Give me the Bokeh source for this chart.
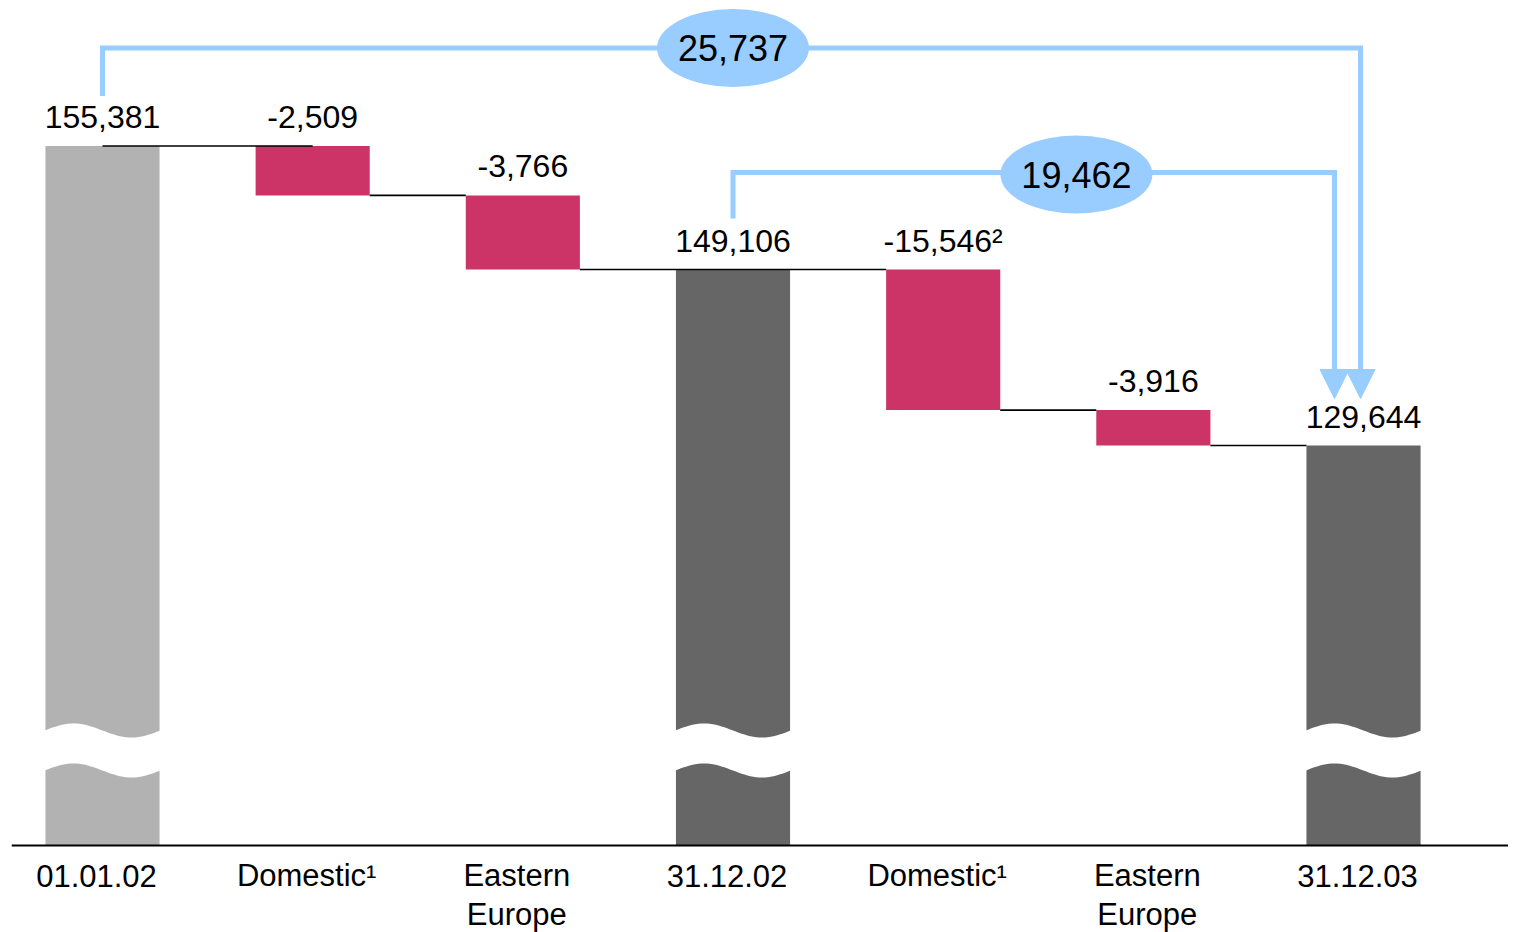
import math
from bokeh.plotting import figure
from bokeh.models import Range1d, Arrow, NormalHead, ColumnDataSource, Span
from bokeh.core.properties import value
from bokeh.embed import file_html
from bokeh.resources import INLINE

# ---------------- data ----------------
categories = ["01.01.02", "Domestic\u00b9", "Eastern\nEurope", "31.12.02",
              "Domestic\u00b9", "Eastern\nEurope", "31.12.03"]
values = [155381, -2509, -3766, 149106, -15546, -3916, 129644]
is_total = [True, False, False, True, False, False, True]
value_labels = ["155,381", "-2,509", "-3,766", "149,106", "-15,546\u00b2", "-3,916", "129,644"]
scale_group = ["y1", "y1", "y1", "y1", "y2", "y2", "y2"]
change_labels = ["25,737", "19,462"]

# ---------------- styles / layout ----------------
FONT = "Liberation Sans"
LIGHT = "#b2b2b2"
DARK = "#666666"
NEG = "#cc3366"
BLUE = "#99ccff"
W, H = 1508, 932
BASE_PX = 845            # baseline position from top of figure
BELOW = H - BASE_PX      # px of frame under the baseline
BORDER_L = 11
UNIT = 210.17            # px per category
FIRST_CENTER = 91        # px from frame left to first bar center
BAR_W = 0.543
LABEL_GAP = 29           # px between bar top and the middle of its value label
CAT_MIDDLES = [30, 69]   # px below the axis line for the middle of label lines

# broken axis: two vertical scales (anchored at pixel heights above the baseline)
s1 = (699.5 - 576.0) / (values[0] - values[3])
base1 = values[3] - 576.0 / s1
s2 = (576.0 - 400.0) / (values[3] - values[6])
base2 = values[3] - 576.0 / s2
bases = {"y1": base1, "y2": base2}
scales = {"y1": s1, "y2": s2}

def h_of(v, g):
    return (v - bases[g]) * scales[g]

def v_of_h(h, g):
    return bases[g] + h / scales[g]

def v1_of_h(h):
    return v_of_h(h, "y1")

x_start = -FIRST_CENTER / UNIT
x_end = x_start + (W - BORDER_L) / UNIT

p = figure(width=W, height=H, x_range=Range1d(x_start, x_end),
           y_range=Range1d(base1 - BELOW / s1, base1 + BASE_PX / s1),
           output_backend="svg", toolbar_location=None,
           x_axis_location=None, y_axis_location=None,
           min_border_left=BORDER_L, min_border_right=0,
           min_border_top=0, min_border_bottom=0)
p.extra_y_ranges = {"y2": Range1d(base2 - BELOW / s2, base2 + BASE_PX / s2)}
p.grid.visible = False
p.outline_line_color = None
p.background_fill_color = "white"
p.border_fill_color = "white"

# ---------------- waterfall geometry ----------------
tops, bottoms, colors = [], [], []
running = None
for i, v in enumerate(values):
    g = scale_group[i]
    if is_total[i]:
        tops.append(v)
        bottoms.append(bases[g])
        colors.append(LIGHT if i == 0 else DARK)
        running = v
    else:
        tops.append(running)
        bottoms.append(running + v)
        colors.append(NEG)
        running = running + v

for g in ("y1", "y2"):
    idx = [i for i in range(len(values)) if scale_group[i] == g]
    src = ColumnDataSource(dict(x=idx, top=[tops[i] for i in idx],
                                bottom=[bottoms[i] for i in idx],
                                color=[colors[i] for i in idx],
                                label=[value_labels[i] for i in idx],
                                ly=[v_of_h(h_of(tops[i], g) + LABEL_GAP, g) for i in idx]))
    kw = {} if g == "y1" else {"y_range_name": "y2"}
    p.vbar(x="x", width=BAR_W, top="top", bottom="bottom", fill_color="color",
           line_color=None, source=src, **kw)
    p.text(x="x", y="ly", text="label", source=src, text_align="center",
           text_baseline="middle", text_color="black",
           text_font=value(FONT), text_font_size="32px", **kw)

# connector lines (running-total levels)
half = BAR_W / 2
conn = {"y1": ([], []), "y2": ([], [])}
def add_conn(level, x0, x1, g):
    conn[g][0].append([x0, x1])
    conn[g][1].append([level, level])
add_conn(tops[1], 0, 1, "y1")
add_conn(tops[2], 1 + half, 2 - half, "y1")
add_conn(tops[3], 2 + half, 4 - half, "y1")
add_conn(tops[5], 4 + half, 5 - half, "y2")
add_conn(tops[6], 5 + half, 6 - half, "y2")
for g in ("y1", "y2"):
    kw = {} if g == "y1" else {"y_range_name": "y2"}
    p.multi_line(xs=conn[g][0], ys=conn[g][1], line_color="black",
                 line_width=1.6, **kw)

# axis-break waves on the total bars
N = 40
for i in range(len(values)):
    if not is_total[i]:
        continue
    g = scale_group[i]
    ts = [k / N for k in range(N + 1)]
    xl = i - half - 0.004
    wx = BAR_W + 0.008
    xs_top = [xl + wx * t for t in ts]
    top_h = [115 + 7 * math.sin(2 * math.pi * t) for t in ts]
    bot_h = [75 + 7 * math.sin(2 * math.pi * t) for t in ts]
    xs = xs_top + xs_top[::-1]
    ys = [v_of_h(h, g) for h in top_h] + [v_of_h(h, g) for h in bot_h[::-1]]
    kw = {} if g == "y1" else {"y_range_name": "y2"}
    p.patch(x=xs, y=ys, fill_color="white", line_color=None, **kw)

# baseline (category axis line)
p.add_layout(Span(location=base1, dimension="width", line_color="black",
                  line_width=2))

# category labels (one text per line)
cx, cy, ct = [], [], []
for i, c in enumerate(categories):
    for k, line in enumerate(c.split("\n")):
        cx.append(i - 6 / UNIT)
        cy.append(v1_of_h(-CAT_MIDDLES[k]))
        ct.append(line)
p.text(x=cx, y=cy, text=ct, text_align="center", text_baseline="middle",
       text_color="black", text_font=value(FONT), text_font_size="31px")

# ---------------- change arrows ----------------
HEAD = 29
tip_h = h_of(values[6], "y2") + 47
a1_x0, a1_x1 = 0, 6 - 3 / UNIT
a1_h0 = h_of(values[0], "y1") + 50
a1_htop = h_of(values[0], "y1") + 98
a2_x0, a2_x1 = 3, 6 - 29 / UNIT
a2_h0 = h_of(values[3], "y1") + 51
a2_htop = h_of(values[3], "y1") + 97

for (x0, x1, h0, ht) in [(a1_x0, a1_x1, a1_h0, a1_htop), (a2_x0, a2_x1, a2_h0, a2_htop)]:
    p.line(x=[x0, x0, x1, x1],
           y=[v1_of_h(h0), v1_of_h(ht), v1_of_h(ht), v1_of_h(tip_h + HEAD + 2)],
           line_color=BLUE, line_width=5, line_join="miter")
    p.add_layout(Arrow(x_start=x1, y_start=v1_of_h(tip_h + HEAD + 6),
                       x_end=x1, y_end=v1_of_h(tip_h),
                       line_color=BLUE, line_width=5,
                       end=NormalHead(size=HEAD, fill_color=BLUE, line_color=BLUE,
                                      line_width=1)))

ell_x = [3.0, 4.634]
ell_y = [v1_of_h(a1_htop), v1_of_h(a2_htop - 2)]
p.ellipse(x=ell_x, y=ell_y, width=152, height=78, width_units="screen",
          height_units="screen", fill_color=BLUE, line_color=None)
p.text(x=ell_x, y=ell_y, text=change_labels, text_align="center",
       text_baseline="middle", text_color="black", text_font=value(FONT),
       text_font_size="36px")

open("out.html", "w").write(file_html(p, INLINE))
